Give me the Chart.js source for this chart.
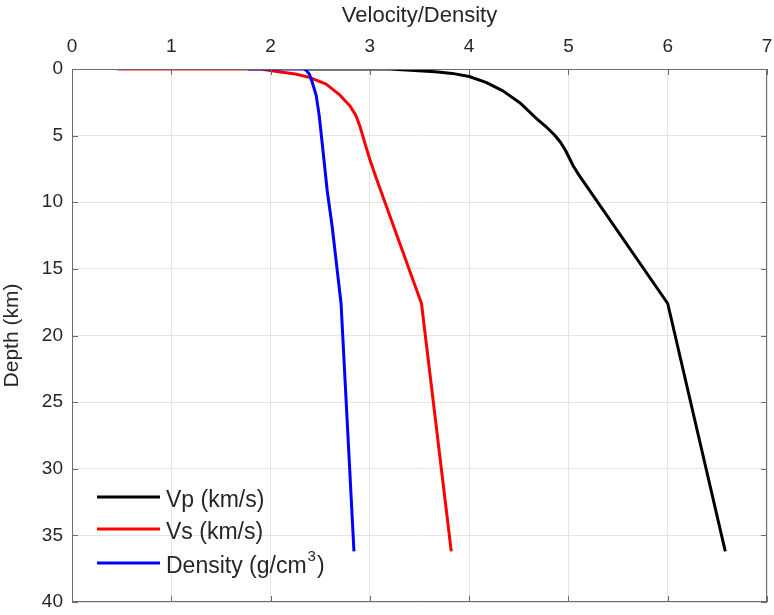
<!DOCTYPE html>
<html>
<head>
<meta charset="utf-8">
<script src="https://cdn.jsdelivr.net/npm/chart.js@4.4.1/dist/chart.umd.min.js"></script>
<style>
  html, body { margin: 0; padding: 0; background: #ffffff; }
  #wrap { width: 774px; height: 615px; }
</style>
</head>
<body>
<div id="wrap"><canvas id="profileChart"></canvas></div>
<script>
// Axis ticks
var xTicks = [0, 1, 2, 3, 4, 5, 6, 7];
var yTicks = [0, 5, 10, 15, 20, 25, 30, 35, 40];

// Vp (km/s) profile
var vpDepth = [0, 0, 0.13, 0.2, 0.33, 0.56, 1.0, 1.64, 2.53, 3.66, 4.3, 4.95, 5.5, 6.1, 7.3, 8.0, 17.6, 36.2];
var vpValue = [2.35, 3.2, 3.49, 3.66, 3.83, 4.0, 4.17, 4.34, 4.51, 4.67, 4.77, 4.86, 4.92, 4.97, 5.05, 5.11, 6.0, 6.58];

// Vs (km/s) profile
var vsDepth = [0, 0, 0.2, 0.38, 0.63, 1.14, 1.9, 2.78, 3.5, 4.3, 5.56, 6.8, 8.1, 17.6, 36.2];
var vsValue = [0.46, 1.9, 2.08, 2.25, 2.39, 2.56, 2.69, 2.8, 2.86, 2.9, 2.95, 3.0, 3.06, 3.52, 3.82];

// Density (g/cm3) profile
var rhoDepth = [0, 0, 0.1, 0.38, 1.0, 2.0, 3.5, 5.56, 9.1, 11.8, 17.6, 36.2];
var rhoValue = [1.77, 2.33, 2.36, 2.39, 2.42, 2.46, 2.49, 2.52, 2.57, 2.62, 2.71, 2.84];

var textColor = '#262626';
var fontFamily = "'Liberation Sans', Arial, sans-serif";

function toPoints(values, depths) {
    return values.map(function(v, i) { return { x: v, y: depths[i] }; });
}

// Box with inward ticks, MATLAB style
var boxPlugin = {
    id: 'boxPlugin',
    afterDatasetsDraw: function(chart) {
        var ctx = chart.ctx;
        var a = chart.chartArea;
        var xs = chart.scales.x;
        var ys = chart.scales.y;
        ctx.save();
        ctx.strokeStyle = '#6b6b6b';
        ctx.lineWidth = 1;
        ctx.strokeRect(a.left + 0.5, a.top + 0.5, a.right - a.left - 1, a.bottom - a.top - 1);
        ctx.beginPath();
        xTicks.forEach(function(t) {
            var px = Math.round(xs.getPixelForValue(t)) + 0.5;
            ctx.moveTo(px, a.top); ctx.lineTo(px, a.top + 6);
            ctx.moveTo(px, a.bottom); ctx.lineTo(px, a.bottom - 6);
        });
        yTicks.forEach(function(t) {
            var py = Math.round(ys.getPixelForValue(t)) + 0.5;
            ctx.moveTo(a.left, py); ctx.lineTo(a.left + 6, py);
            ctx.moveTo(a.right, py); ctx.lineTo(a.right - 6, py);
        });
        ctx.stroke();
        ctx.restore();
    }
};

// Legend inside the plot, lower left
var legendPlugin = {
    id: 'legendPlugin',
    afterDraw: function(chart) {
        var ctx = chart.ctx;
        var a = chart.chartArea;
        var x0 = a.left + 25;
        var x1 = a.left + 88;
        var tx = a.left + 94;
        var rows = [
            { y: a.top + 428, color: '#000000', parts: ['Vp (km/s)'] },
            { y: a.top + 460, color: '#ff0000', parts: ['Vs (km/s)'] },
            { y: a.top + 494, color: '#0000ff', parts: ['Density (g/cm', '3', ')'] }
        ];
        ctx.save();
        rows.forEach(function(r) {
            ctx.strokeStyle = r.color;
            ctx.lineWidth = 3;
            ctx.beginPath();
            ctx.moveTo(x0, r.y);
            ctx.lineTo(x1, r.y);
            ctx.stroke();
            ctx.fillStyle = textColor;
            ctx.textBaseline = 'middle';
            ctx.textAlign = 'left';
            var x = tx;
            ctx.font = '23px ' + fontFamily;
            ctx.fillText(r.parts[0], x, r.y + 4);
            x += ctx.measureText(r.parts[0]).width;
            if (r.parts.length > 1) {
                ctx.font = '15px ' + fontFamily;
                ctx.fillText(r.parts[1], x + 1, r.y - 6);
                x += ctx.measureText(r.parts[1]).width + 2;
                ctx.font = '23px ' + fontFamily;
                ctx.fillText(r.parts[2], x, r.y + 4);
            }
        });
        ctx.restore();
    }
};

var ctx = document.getElementById('profileChart').getContext('2d');
var profileChart = new Chart(ctx, {
    type: 'scatter',
    data: {
        datasets: [{
            label: 'Vp (km/s)',
            data: toPoints(vpValue, vpDepth),
            borderColor: '#000000',
            order: 2
        }, {
            label: 'Vs (km/s)',
            data: toPoints(vsValue, vsDepth),
            borderColor: '#ff0000',
            order: 1
        }, {
            label: 'Density (g/cm³)',
            data: toPoints(rhoValue, rhoDepth),
            borderColor: '#0000ff',
            order: 0
        }]
    },
    options: {
        responsive: true,
        maintainAspectRatio: false,
        animation: false,
        showLine: true,
        elements: {
            line: { borderWidth: 3, tension: 0, borderJoinStyle: 'round', fill: false },
            point: { radius: 0, hoverRadius: 0 }
        },
        layout: {
            padding: { left: 0, top: 0, right: 7, bottom: 13 }
        },
        plugins: {
            legend: { display: false },
            tooltip: { enabled: false }
        },
        scales: {
            x: {
                type: 'linear',
                position: 'top',
                min: 0,
                max: 7,
                afterFit: function(scale) {
                    scale.height = 69;
                    scale.paddingLeft = 0;
                    scale.paddingRight = 0;
                },
                afterBuildTicks: function(scale) {
                    scale.ticks = xTicks.map(function(v) { return { value: v }; });
                },
                ticks: {
                    color: textColor,
                    padding: 11,
                    font: { family: fontFamily, size: 19 }
                },
                grid: { color: '#e4e4e4', drawTicks: false },
                border: { display: false },
                title: {
                    display: true,
                    text: 'Velocity/Density',
                    color: textColor,
                    padding: { top: 3, bottom: 0 },
                    font: { family: fontFamily, size: 22 }
                }
            },
            y: {
                type: 'linear',
                reverse: true,
                min: 0,
                max: 40,
                afterFit: function(scale) {
                    scale.width = 72;
                    scale.paddingTop = 0;
                    scale.paddingBottom = 0;
                },
                afterBuildTicks: function(scale) {
                    scale.ticks = yTicks.map(function(v) { return { value: v }; });
                },
                ticks: {
                    color: textColor,
                    padding: 9,
                    font: { family: fontFamily, size: 19 }
                },
                grid: { color: '#e4e4e4', drawTicks: false },
                border: { display: false },
                title: {
                    display: true,
                    text: 'Depth (km)',
                    color: textColor,
                    padding: { top: 0, bottom: 9 },
                    font: { family: fontFamily, size: 21 }
                }
            }
        }
    },
    plugins: [boxPlugin, legendPlugin]
});
</script>
</body>
</html>
